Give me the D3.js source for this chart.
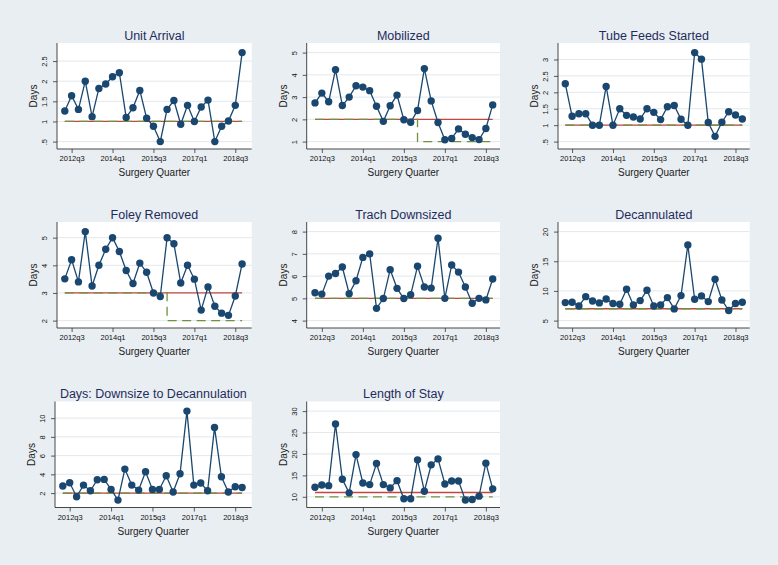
<!DOCTYPE html>
<html>
<head>
<meta charset="utf-8">
<script src="https://cdn.jsdelivr.net/npm/d3@7"></script>
<style>
  html, body { margin: 0; padding: 0; background: #e9eef2; }
  svg { display: block; font-family: "Liberation Sans", Arial, Helvetica, sans-serif; }
</style>
</head>
<body>
<svg id="chart" width="778" height="565"></svg>
<script>
// ---------- DATA ----------
const quarters = ["2012q2","2012q3","2012q4","2013q1","2013q2","2013q3","2013q4",
  "2014q1","2014q2","2014q3","2014q4","2015q1","2015q2","2015q3","2015q4",
  "2016q1","2016q2","2016q3","2016q4","2017q1","2017q2","2017q3","2017q4",
  "2018q1","2018q2","2018q3","2018q4"];
const tickQuarters = ["2012q3","2014q1","2015q3","2017q1","2018q3"];

const titles = ["Unit Arrival","Mobilized","Tube Feeds Started","Foley Removed",
  "Trach Downsized","Decannulated","Days: Downsize to Decannulation","Length of Stay"];

const unitArrival = [1.26,1.64,1.30,2.00,1.12,1.82,1.93,2.11,2.21,1.10,1.34,1.77,1.08,0.88,0.50,1.30,1.52,0.93,1.40,1.00,1.36,1.53,0.50,0.88,1.01,1.40,2.71];
const mobilized = [2.74,3.18,2.79,4.23,2.62,3.00,3.51,3.45,3.29,2.59,1.91,2.61,3.09,1.98,1.87,2.40,4.28,2.83,1.86,1.08,1.14,1.57,1.33,1.18,1.09,1.59,2.65];
const tubeFeeds = [2.26,1.27,1.35,1.35,1.00,1.00,2.18,1.00,1.50,1.30,1.25,1.19,1.50,1.39,1.17,1.56,1.60,1.18,1.00,3.21,3.01,1.08,0.66,1.09,1.41,1.31,1.19];
const foleyRemoved = [3.51,4.20,3.40,5.22,3.25,4.00,4.58,5.00,4.50,3.81,3.34,4.08,3.75,3.00,2.87,5.00,4.78,3.36,4.00,3.50,2.38,3.22,2.52,2.27,2.19,2.89,4.05];
const trachDownsized = [5.25,5.19,6.00,6.12,6.41,5.21,5.79,6.84,7.00,4.55,4.99,6.29,5.45,4.99,5.16,6.44,5.51,5.46,7.70,5.00,6.50,6.18,5.51,4.78,5.00,4.93,5.87];
const decannulated = [8.03,8.09,7.47,9.04,8.31,7.98,8.65,7.87,7.75,10.28,7.64,8.37,10.11,7.47,7.64,8.88,6.97,9.21,17.75,8.60,9.16,8.20,11.97,8.48,6.69,7.87,8.09];
const downsizeToDecan = [2.75,3.10,1.61,2.85,2.25,3.42,3.46,2.39,1.25,4.56,2.85,2.32,4.28,2.39,2.39,3.85,2.11,4.06,10.75,2.85,3.07,2.25,9.01,3.74,2.11,2.68,2.60];
const lengthOfStay = [12.23,12.77,12.60,27.00,14.08,10.92,19.85,13.23,12.85,17.77,12.85,12.08,13.77,9.54,9.54,18.62,11.30,17.46,18.85,13.00,13.70,13.70,9.23,9.38,10.15,17.85,11.85];

const seriesValues = [unitArrival, mobilized, tubeFeeds, foleyRemoved,
  trachDownsized, decannulated, downsizeToDecan, lengthOfStay];

const yTicks = [
  [0.5,1,1.5,2,2.5],
  [1,2,3,4,5],
  [0.5,1,1.5,2,2.5,3],
  [2,3,4,5],
  [4,5,6,7,8],
  [5,10,15,20],
  [2,4,6,8,10],
  [10,15,20,25,30]
];

// solid (red) reference level per panel
const redLevels = [1,2,1,3,5,7,2,11];
// dashed (green) reference: steps [starting quarter, level]
const greenSteps = [
  [["2012q2",1]],
  [["2012q2",2],["2016q1",1]],
  [["2012q2",1]],
  [["2012q2",3],["2016q1",2]],
  [["2012q2",5]],
  [["2012q2",7]],
  [["2012q2",2]],
  [["2012q2",10]]
];

// ---------- LAYOUT ----------
const rowTops = [0, 179, 358.5];
const plotLeft  = [57, 306.7, 558, 57, 306.7, 558, 55, 306.7];
const plotRight = [251.7, 500, 749.7, 251.7, 500, 749.7, 251.7, 500];
const xFirst = [64.8, 315, 565.3, 64.8, 315, 565.3, 62.8, 315];
const xLast  = [242.1, 492.7, 742.3, 242.1, 492.7, 742.3, 242.1, 492.7];

const navy = "#1a476f";
const red = "#c4463f";
const green = "#6f9140";
const titleColor = "#1f2c5c";

const svg = d3.select("#chart");
svg.append("rect").attr("width",778).attr("height",565).attr("fill","#e9eef2");

seriesValues.forEach((vals, i) => {
  const row = Math.floor(i / 3);
  const top = rowTops[row];
  const L = plotLeft[i], R = plotRight[i];
  const g = svg.append("g");

  const ticks = yTicks[i];
  const lo = Math.min(d3.min(vals), d3.min(ticks));
  const hi = Math.max(d3.max(vals), d3.max(ticks));
  const y = d3.scaleLinear().domain([lo, hi]).range([top + 141.6, top + 52.6]);
  const x = d3.scalePoint().domain(quarters).range([xFirst[i], xLast[i]]);

  // plot region
  g.append("rect").attr("x", L).attr("y", top + 43).attr("width", R - L).attr("height", 106)
    .attr("fill", "#ffffff");

  // grid
  g.selectAll(".grid").data(ticks).enter().append("line")
    .attr("x1", L).attr("x2", R)
    .attr("y1", d => y(d)).attr("y2", d => y(d))
    .attr("stroke", "#e2e8ed").attr("stroke-width", 1);

  // y axis
  const yAxis = d3.axisLeft(y).tickValues(ticks).tickSize(4).tickPadding(0)
    .tickFormat(d => d3.format("")(d).replace(/^0\./, "."));
  const ya = g.append("g").attr("transform", `translate(${L},0)`).call(yAxis);
  ya.select(".domain").remove();
  ya.selectAll(".tick line").attr("stroke", "#333").attr("stroke-width", 0.8);
  ya.selectAll(".tick text")
    .attr("x", null).attr("dy", null)
    .attr("transform", "translate(-10,0) rotate(-90)")
    .attr("text-anchor", "middle")
    .attr("font-size", 7.5).attr("fill", "#111")
    .attr("font-family", "Liberation Sans, Arial, sans-serif");
  g.append("line").attr("x1", L).attr("x2", L).attr("y1", top + 43).attr("y2", top + 149)
    .attr("stroke", "#333").attr("stroke-width", 0.9);

  // x axis
  const xAxis = d3.axisBottom(x).tickValues(tickQuarters).tickSize(4).tickPadding(3);
  const xa = g.append("g").attr("transform", `translate(0,${top + 149})`).call(xAxis);
  xa.select(".domain").remove();
  xa.selectAll(".tick line").attr("stroke", "#333").attr("stroke-width", 0.8);
  xa.selectAll(".tick text").attr("font-size", 7.5).attr("fill", "#111")
    .attr("font-family", "Liberation Sans, Arial, sans-serif");
  g.append("line").attr("x1", L).attr("x2", R).attr("y1", top + 149).attr("y2", top + 149)
    .attr("stroke", "#333").attr("stroke-width", 0.9);

  // axis titles
  g.append("text").attr("x", (L + R) / 2).attr("y", top + 176)
    .attr("text-anchor", "middle").attr("font-size", 10).attr("fill", "#222")
    .text("Surgery Quarter");
  g.append("text")
    .attr("transform", `translate(${L - 20},${top + 96}) rotate(-90)`)
    .attr("text-anchor", "middle").attr("font-size", 10).attr("fill", "#222")
    .text("Days");

  // title
  g.append("text").attr("x", (L + R) / 2).attr("y", top + 39.5)
    .attr("text-anchor", "middle").attr("font-size", 12.5).attr("fill", titleColor)
    .text(titles[i]);

  // red reference line
  g.append("line")
    .attr("x1", x(quarters[0])).attr("x2", x(quarters[quarters.length - 1]))
    .attr("y1", y(redLevels[i])).attr("y2", y(redLevels[i]))
    .attr("stroke", red).attr("stroke-width", 1.3);

  // green dashed step reference
  const steps = greenSteps[i];
  const pts = [];
  steps.forEach((s, k) => {
    const endQ = k < steps.length - 1 ? steps[k + 1][0] : quarters[quarters.length - 1];
    pts.push([x(s[0]), y(s[1])]);
    pts.push([x(endQ), y(s[1])]);
  });
  g.append("path").attr("d", d3.line()(pts))
    .attr("fill", "none").attr("stroke", green).attr("stroke-width", 1.3)
    .attr("stroke-dasharray", "9,5.5");

  // data line
  const line = d3.line().x((d, j) => x(quarters[j])).y(d => y(d));
  g.append("path").attr("d", line(vals)).attr("fill", "none")
    .attr("stroke", navy).attr("stroke-width", 1.3);
  g.selectAll(".pt").data(vals).enter().append("circle")
    .attr("cx", (d, j) => x(quarters[j])).attr("cy", d => y(d)).attr("r", 3.7)
    .attr("fill", navy);
});
</script>
</body>
</html>
